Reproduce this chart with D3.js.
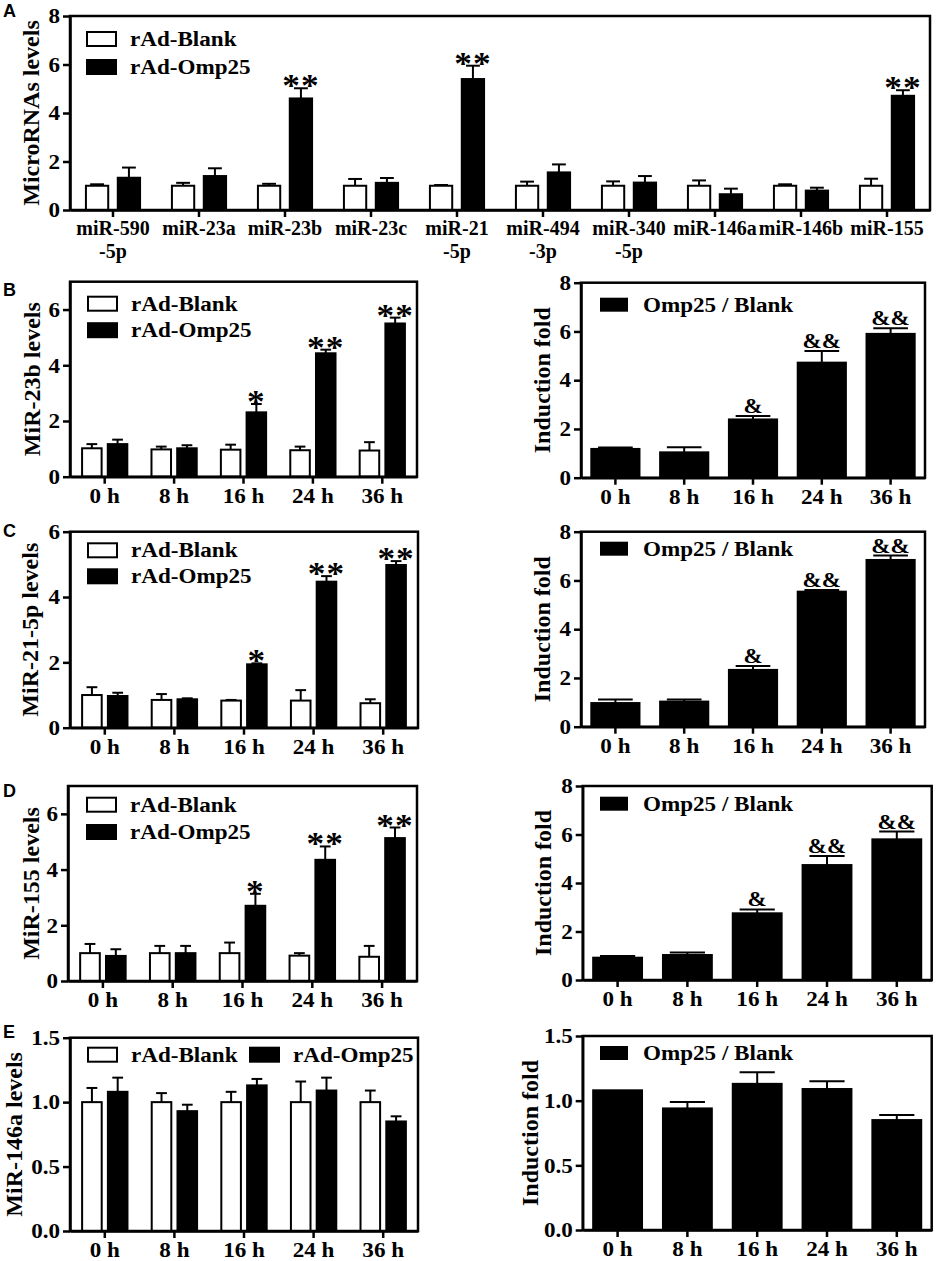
<!DOCTYPE html>
<html><head><meta charset="utf-8">
<script src="https://cdn.jsdelivr.net/npm/d3@7"></script>
<style>
body{margin:0;background:#fff}
svg text{font-family:"Liberation Serif","Times New Roman",serif;font-weight:bold;fill:#000}
svg text.letter{font-family:"Liberation Sans",Arial,sans-serif}
</style></head><body>
<svg id="fig" width="936" height="1261"></svg>
<script>
// ---------------- DATA ----------------
const seriesNames = ["rAd-Blank", "rAd-Omp25"];
const foldName = "Omp25 / Blank";
const hours = ["0 h", "8 h", "16 h", "24 h", "36 h"];

// Panel A
const catsA = ["miR-590-5p","miR-23a","miR-23b","miR-23c","miR-21-5p","miR-494-3p","miR-340-5p","miR-146a","miR-146b","miR-155"];
const blankA    = [1.00, 1.00, 1.00, 1.00, 1.00, 1.00, 1.00, 1.00, 1.00, 1.00];
const blankAErr = [0.06, 0.12, 0.08, 0.28, 0.03, 0.17, 0.18, 0.22, 0.06, 0.29];
const ompA      = [1.33, 1.40, 4.60, 1.12, 5.40, 1.55, 1.13, 0.65, 0.80, 4.71];
const ompAErr   = [0.42, 0.32, 0.42, 0.20, 0.55, 0.33, 0.27, 0.23, 0.12, 0.23];
const sigA      = ["", "", "**", "", "**", "", "", "", "", "**"];

// Panel B (miR-23b)
const blankB    = [1.02, 0.98, 0.97, 0.95, 0.94];
const blankBErr = [0.15, 0.10, 0.18, 0.13, 0.30];
const ompB      = [1.17, 1.02, 2.31, 4.43, 5.50];
const ompBErr   = [0.16, 0.11, 0.30, 0.13, 0.21];
const sigB      = ["", "", "*", "**", "**"];
const foldB     = [1.18, 1.04, 2.39, 4.72, 5.90];
const foldBErr  = [0.06, 0.21, 0.14, 0.48, 0.23];
const ampB      = ["", "", "&", "&&", "&&"];

// Panel C (miR-21-5p)
const blankC    = [1.00, 0.85, 0.83, 0.83, 0.75];
const blankCErr = [0.24, 0.18, 0.02, 0.32, 0.12];
const ompC      = [0.97, 0.87, 1.94, 4.47, 4.98];
const ompCErr   = [0.10, 0.03, 0.03, 0.17, 0.12];
const sigC      = ["", "", "*", "**", "**"];
const foldC     = [0.97, 1.03, 2.33, 5.54, 6.84];
const foldCErr  = [0.15, 0.09, 0.16, 0.07, 0.18];
const ampC      = ["", "", "&", "&&", "&&"];

// Panel D (miR-155)
const blankD    = [1.00, 1.00, 1.00, 0.91, 0.87];
const blankDErr = [0.33, 0.26, 0.38, 0.09, 0.39];
const ompD      = [0.90, 1.00, 2.70, 4.35, 5.13];
const ompDErr   = [0.24, 0.26, 0.43, 0.48, 0.38];
const sigD      = ["", "", "*", "**", "**"];
const foldD     = [0.92, 1.03, 2.75, 4.74, 5.80];
const foldDErr  = [0.07, 0.10, 0.16, 0.37, 0.32];
const ampD      = ["", "", "&", "&&", "&&"];

// Panel E (miR-146a)
const blankE    = [1.00, 1.00, 1.00, 1.00, 1.00];
const blankEErr = [0.11, 0.07, 0.08, 0.16, 0.09];
const ompE      = [1.08, 0.93, 1.13, 1.09, 0.85];
const ompEErr   = [0.11, 0.05, 0.05, 0.10, 0.04];
const sigE      = ["", "", "", "", ""];
const foldE     = [1.08, 0.94, 1.13, 1.09, 0.85];
const foldEErr  = [0.00, 0.05, 0.09, 0.06, 0.04];
const ampE      = ["", "", "", "", ""];

const ticks8  = [0, 2, 4, 6, 8];
const ticks7  = [0, 2, 4, 6];
const ticks6  = [0, 2, 4, 6];
const ticks15 = [0, 0.5, 1.0, 1.5];

// ---------------- DRAW ----------------
const svg = d3.select("#fig");
const FS = 21, SX = 1.1;

function axes(g, x, y, L, ticks, fmt) {
  g.append("rect").attr("x", L.x0).attr("y", L.y0)
    .attr("width", L.x1 - L.x0).attr("height", L.y1 - L.y0)
    .attr("fill", "none").attr("stroke", "#000").attr("stroke-width", 2.5);
  const ya = g.append("g").attr("transform", `translate(${L.x0},0)`)
    .call(d3.axisLeft(y).tickValues(ticks).tickFormat(fmt).tickSize(7).tickPadding(2).tickSizeOuter(0));
  const xa = g.append("g").attr("transform", `translate(0,${L.y1})`)
    .call(d3.axisBottom(x).tickSize(7).tickPadding(4).tickSizeOuter(0));
  [ya, xa].forEach(a => {
    a.selectAll("path,line").attr("stroke", "#000").attr("stroke-width", 2.5);
    a.selectAll("text").attr("font-size", FS).attr("fill", "#000").attr("transform", `scale(${SX},1)`);
  });
  g.append("text").attr("transform", `translate(${L.titleX},${(L.y0 + L.y1) / 2}) rotate(-90)`)
    .attr("text-anchor", "middle").attr("font-size", 24).text(L.title);
  if (L.letter) g.append("text").attr("class", "letter").attr("x", 3).attr("y", L.letterY)
    .attr("font-size", 18).text(L.letter);
  return xa;
}

function errBar(g, cx, y, v, e, cw) {
  if (!e) return;
  g.append("line").attr("x1", cx).attr("x2", cx).attr("y1", y(v)).attr("y2", y(v + e))
    .attr("stroke", "#000").attr("stroke-width", 2);
  g.append("line").attr("x1", cx - cw / 2).attr("x2", cx + cw / 2).attr("y1", y(v + e)).attr("y2", y(v + e))
    .attr("stroke", "#000").attr("stroke-width", 2);
}

function legendText(g, x, yb, t) {
  g.append("text").attr("transform", `translate(${x},${yb}) scale(${SX},1)`).attr("font-size", FS).text(t);
}

function grouped(L, cats, bv, be, ov, oe, sig) {
  const g = svg.append("g");
  const x = d3.scaleBand().domain(cats).range([L.x0, L.x1]).padding(0);
  const xs = d3.scaleBand().domain([0, 1]).range([0, x.bandwidth()]).paddingInner(L.pi).paddingOuter(L.po);
  const y = d3.scaleLinear().domain([0, L.ymax]).range([L.y1, L.y0]);
  const series = [{ v: bv, e: be, fill: "#fff" }, { v: ov, e: oe, fill: "#000" }];
  const cw = xs.bandwidth() * L.cap;
  series.forEach((s, si) => {
    cats.forEach((c, i) => {
      const bx = x(c) + xs(si), cx = bx + xs.bandwidth() / 2;
      errBar(g, cx, y, s.v[i], s.e[i], cw);
      g.append("rect").attr("x", bx).attr("y", y(s.v[i])).attr("width", xs.bandwidth())
        .attr("height", y(0) - y(s.v[i])).attr("fill", s.fill).attr("stroke", "#000").attr("stroke-width", 2);
      if (si === 1 && sig[i]) {
        g.append("text").attr("transform", `translate(${cx},${y(s.v[i] + s.e[i]) + 8}) scale(1.1,1)`)
          .attr("text-anchor", "middle").attr("letter-spacing", 1)
          .attr("font-size", 32).attr("font-weight", "normal").text(sig[i]);
      }
    });
  });
  const xa = axes(g, x, y, L, L.ticks, L.fmt);
  seriesNames.forEach((n, k) => {
    const lx = L.x0 + L.lg.dx + (L.lg.mode === "h" ? k * L.lg.step : 0);
    const ly = L.y0 + L.lg.dy + (L.lg.mode === "h" ? 0 : k * L.lg.step);
    g.append("rect").attr("x", lx).attr("y", ly).attr("width", 29).attr("height", 14)
      .attr("fill", series[k].fill).attr("stroke", "#000").attr("stroke-width", 2);
    legendText(g, lx + 43, ly + 14, n);
  });
  return xa;
}

function fold(L, cats, v, e, amp) {
  const g = svg.append("g");
  const x = d3.scaleBand().domain(cats).range([L.x0, L.x1]).paddingInner(0.3).paddingOuter(0.15);
  const y = d3.scaleLinear().domain([0, L.ymax]).range([L.y1, L.y0]);
  const cw = x.bandwidth() * 0.72;
  cats.forEach((c, i) => {
    const cx = x(c) + x.bandwidth() / 2;
    errBar(g, cx, y, v[i], e[i], cw);
    g.append("rect").attr("x", x(c)).attr("y", y(v[i])).attr("width", x.bandwidth())
      .attr("height", y(0) - y(v[i])).attr("fill", "#000").attr("stroke", "#000").attr("stroke-width", 2);
    if (amp[i]) {
      g.append("text").attr("transform", `translate(${cx},${y(v[i] + e[i]) - 3}) scale(1.1,1)`)
        .attr("text-anchor", "middle")
        .attr("font-size", 21).attr("font-weight", "normal").text(amp[i]);
    }
  });
  axes(g, x, y, L, L.ticks, L.fmt);
  const lx = L.x0 + L.lg.dx, ly = L.y0 + L.lg.dy;
  g.append("rect").attr("x", lx).attr("y", ly).attr("width", 28).attr("height", 14).attr("fill", "#000");
  legendText(g, lx + 43, ly + 14, foldName);
}

const f0 = d3.format("d"), f1 = d3.format(".1f");

// Panel A
const xaA = grouped({ x0: 70, x1: 930, y0: 16, y1: 210, ymax: 8, ticks: ticks8, fmt: f0, pi: 0.3, po: 0.5, cap: 0.62,
  title: "MicroRNAs levels", titleX: 39, letter: "A", letterY: 17,
  lg: { mode: "v", dx: 17, dy: 16, step: 28 } }, catsA, blankA, blankAErr, ompA, ompAErr, sigA);
xaA.selectAll(".tick text").attr("font-size", 20).attr("transform", null).each(function (d) {
  const m = d.match(/^(miR-\d+)(-\dp)$/);
  if (m) {
    const t = d3.select(this);
    t.text(null);
    t.append("tspan").attr("x", 0).text(m[1]);
    t.append("tspan").attr("x", 0).attr("dy", "1.15em").text(m[2]);
  }
});

const leftCommon = { pi: 0.24, po: 0.47, cap: 0.55 };
// B
grouped(Object.assign({ x0: 70, x1: 417, y0: 281.7, y1: 476.7, ymax: 7, ticks: ticks7, fmt: f0,
  title: "MiR-23b levels", titleX: 40, letter: "B", letterY: 296,
  lg: { mode: "v", dx: 18, dy: 15, step: 26.5 } }, leftCommon), hours, blankB, blankBErr, ompB, ompBErr, sigB);
fold({ x0: 581, x1: 925, y0: 282.7, y1: 477.7, ymax: 8, ticks: ticks8, fmt: f0,
  title: "Induction fold", titleX: 550, lg: { dx: 19, dy: 15 } }, hours, foldB, foldBErr, ampB);
// C
grouped(Object.assign({ x0: 70, x1: 418, y0: 531.7, y1: 727.7, ymax: 6, ticks: ticks6, fmt: f0,
  title: "MiR-21-5p levels", titleX: 38, letter: "C", letterY: 537,
  lg: { mode: "v", dx: 18, dy: 11.6, step: 26 } }, leftCommon), hours, blankC, blankCErr, ompC, ompCErr, sigC);
fold({ x0: 581, x1: 925, y0: 531.7, y1: 726.7, ymax: 8, ticks: ticks8, fmt: f0,
  title: "Induction fold", titleX: 550, lg: { dx: 19, dy: 10 } }, hours, foldC, foldCErr, ampC);
// D
grouped(Object.assign({ x0: 68, x1: 417, y0: 786, y1: 981, ymax: 7, ticks: ticks7, fmt: f0,
  title: "MiR-155 levels", titleX: 39, letter: "D", letterY: 797,
  lg: { mode: "v", dx: 19, dy: 11.7, step: 27.3 } }, leftCommon), hours, blankD, blankDErr, ompD, ompDErr, sigD);
fold({ x0: 582.7, x1: 931.7, y0: 786, y1: 980, ymax: 8, ticks: ticks8, fmt: f0,
  title: "Induction fold", titleX: 551, lg: { dx: 17.3, dy: 10.7 } }, hours, foldD, foldDErr, ampD);
// E
grouped(Object.assign({ x0: 70, x1: 418, y0: 1037.7, y1: 1231, ymax: 1.5, ticks: ticks15, fmt: f1,
  title: "MiR-146a levels", titleX: 22, letter: "E", letterY: 1038,
  lg: { mode: "h", dx: 18, dy: 10, step: 162 } }, leftCommon), hours, blankE, blankEErr, ompE, ompEErr, sigE);
fold({ x0: 582.7, x1: 931.7, y0: 1036, y1: 1230, ymax: 1.5, ticks: ticks15, fmt: f1,
  title: "Induction fold", titleX: 538, lg: { dx: 17.3, dy: 10 } }, hours, foldE, foldEErr, ampE);
</script></body></html>
